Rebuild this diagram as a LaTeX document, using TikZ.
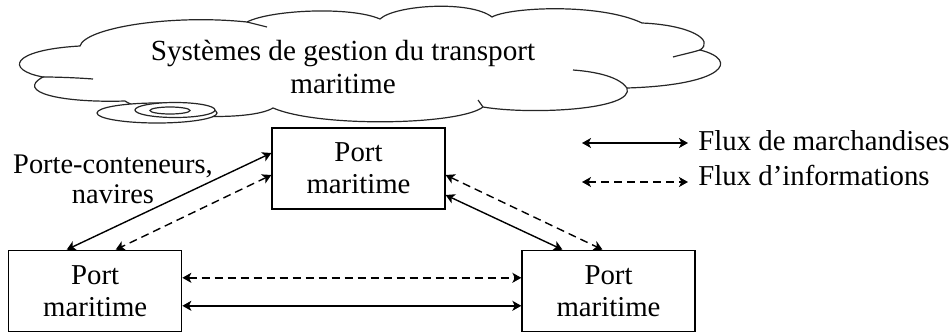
\documentclass[tikz,border=0pt]{standalone}
\usepackage{fontspec}
\setmainfont{Liberation Serif}
\usetikzlibrary{arrows.meta,positioning}

\begin{document}
\begin{tikzpicture}[
    x=0.5pt, y=-0.5pt,
    every node/.style={font=\fontsize{14.4}{16}\selectfont},
    port/.style={rectangle, draw=black, line width=0.65pt, minimum width=86.5pt, minimum height=40.5pt, align=center, inner sep=0pt},
    arrow/.style={line width=0.7pt,<->,>={Stealth[length=4.5pt,width=5pt,inset=1.2pt]}},
    info/.style={arrow, dash pattern=on 4pt off 2.5pt},
    cloudline/.style={draw=black!85, line width=0.6pt}
]
\useasboundingbox (0,0) rectangle (952,332);

% nuage
\draw[cloudline, fill=white] (80,46) .. controls (85,28) and (170,14) .. (247,22)
    .. controls (270,10) and (350,6) .. (380,19)
    .. controls (395,5) and (470,0) .. (492,17)
    .. controls (510,7) and (600,3) .. (642,23)
    .. controls (690,25) and (715,40) .. (700,50)
    .. controls (740,60) and (725,85) .. (627,88)
    .. controls (635,110) and (530,115) .. (483,107)
    .. controls (460,125) and (320,128) .. (273,108)
    .. controls (250,122) and (150,118) .. (125,101)
    .. controls (60,103) and (15,92) .. (43,77)
    .. controls (5,70) and (10,50) .. (80,46) -- cycle;
\draw[cloudline] (43,77) .. controls (60,77) and (80,78) .. (93,79);
\draw[cloudline] (700,50) .. controls (690,53) and (680,55) .. (673,57);
\draw[cloudline] (627,88) .. controls (620,78) and (600,72) .. (573,70);
\draw[cloudline] (247,22) -- (267,27);
\draw[cloudline] (483,107) -- (478,100);
\draw[cloudline, fill=white] (157,113) ellipse [x radius=30pt, y radius=5pt];
\draw[cloudline, fill=white] (175,110) ellipse [x radius=20pt, y radius=3.75pt];
\draw[cloudline, fill=white] (170,110.5) ellipse [x radius=10pt, y radius=1.75pt];
\node[align=center, font=\fontsize{14.6}{16.5}\selectfont] (gestion) at (343,67) {Systèmes de gestion du transport\\maritime};

% ports
\node[port] (portTop) at (358.5,168.5) {Port\\maritime};
\node[port, below left=20pt and 44.5pt of portTop] (portLeft) {Port\\maritime};
\node[port, right=169.5pt of portLeft] (portRight) {Port\\maritime};

\draw[arrow] ([yshift=7.75pt]portTop.west) -- ([xshift=-14.25pt]portLeft.north);
\draw[info] ([yshift=-3.25pt]portTop.west) -- ([xshift=10.25pt]portLeft.north);
\draw[arrow] ([yshift=-13.25pt]portTop.east) -- ([xshift=-23pt]portRight.north);
\draw[info] ([yshift=-3.25pt]portTop.east) -- ([xshift=-3pt]portRight.north);
\draw[info] ([yshift=6.5pt]portLeft.east) -- ([yshift=6.5pt]portRight.west);
\draw[arrow] ([yshift=-7.5pt]portLeft.east) -- ([yshift=-7.5pt]portRight.west);

\node[align=center, font=\fontsize{14.2}{15}\selectfont] (navires) at (113,179) {Porte-conteneurs,\\navires};

% legende
\node[anchor=west, inner sep=5pt] (fluxm) at (688,140.5) {Flux de marchandises};
\node[anchor=west, inner sep=5pt] (fluxi) at (688,175.5) {Flux d’informations};
\coordinate (legm) at (582,143);
\coordinate (legi) at (582,182);
\draw[arrow] (legm) -- (legm -| fluxm.west);
\draw[info] (legi) -- (legi -| fluxi.west);
\end{tikzpicture}
\end{document}
